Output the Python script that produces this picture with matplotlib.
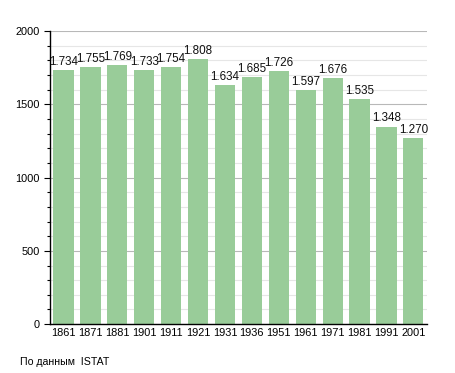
import numpy as np
import matplotlib
import matplotlib.pyplot as plt
from matplotlib.ticker import MultipleLocator

matplotlib.use('Agg')
plt.rcParams['font.family'] = ['Liberation Sans', 'DejaVu Sans']

years = ['1861', '1871', '1881', '1901', '1911', '1921', '1931',
         '1936', '1951', '1961', '1971', '1981', '1991', '2001']
population = [1734, 1755, 1769, 1733, 1754, 1808, 1634,
              1685, 1726, 1597, 1676, 1535, 1348, 1270]
value_labels = ['1.734', '1.755', '1.769', '1.733', '1.754', '1.808', '1.634',
                '1.685', '1.726', '1.597', '1.676', '1.535', '1.348', '1.270']

fig = plt.figure(figsize=(4.55, 3.73), dpi=100)
ax = fig.add_axes([0.110, 0.131, 0.828, 0.786])

x = np.arange(len(years))
ax.bar(x, population, width=0.75, color='#99cc99', zorder=2)

# population labels above the bars
for xi, val, lab in zip(x, population, value_labels):
    ax.text(xi, val + 14, lab, ha='center', va='bottom', fontsize=8.4,
            color='#111111', zorder=3)

ax.set_xlim(-0.5, len(years) - 0.5)
ax.set_ylim(0, 2000)
ax.set_xticks(x)
ax.set_xticklabels(years, fontsize=7.9)
ax.yaxis.set_major_locator(MultipleLocator(500))
ax.yaxis.set_minor_locator(MultipleLocator(100))
ax.tick_params(axis='y', labelsize=7.9, length=4, width=0.8)
ax.tick_params(axis='y', which='minor', length=2.5, width=0.8)
ax.tick_params(axis='x', length=0, pad=3)

ax.grid(axis='y', which='major', color='#b8b8b8', linewidth=0.8, zorder=0)
ax.grid(axis='y', which='minor', color='#e6e6e6', linewidth=0.8, zorder=0)
ax.set_axisbelow(True)

for side in ['top', 'right']:
    ax.spines[side].set_visible(False)
ax.spines['left'].set_linewidth(1.0)
ax.spines['bottom'].set_linewidth(1.0)

fig.text(20 / 455, 1 - 362 / 373, 'По данным  ISTAT', fontsize=7.6,
         ha='left', va='center')

fig.savefig('out.png', dpi=100)
